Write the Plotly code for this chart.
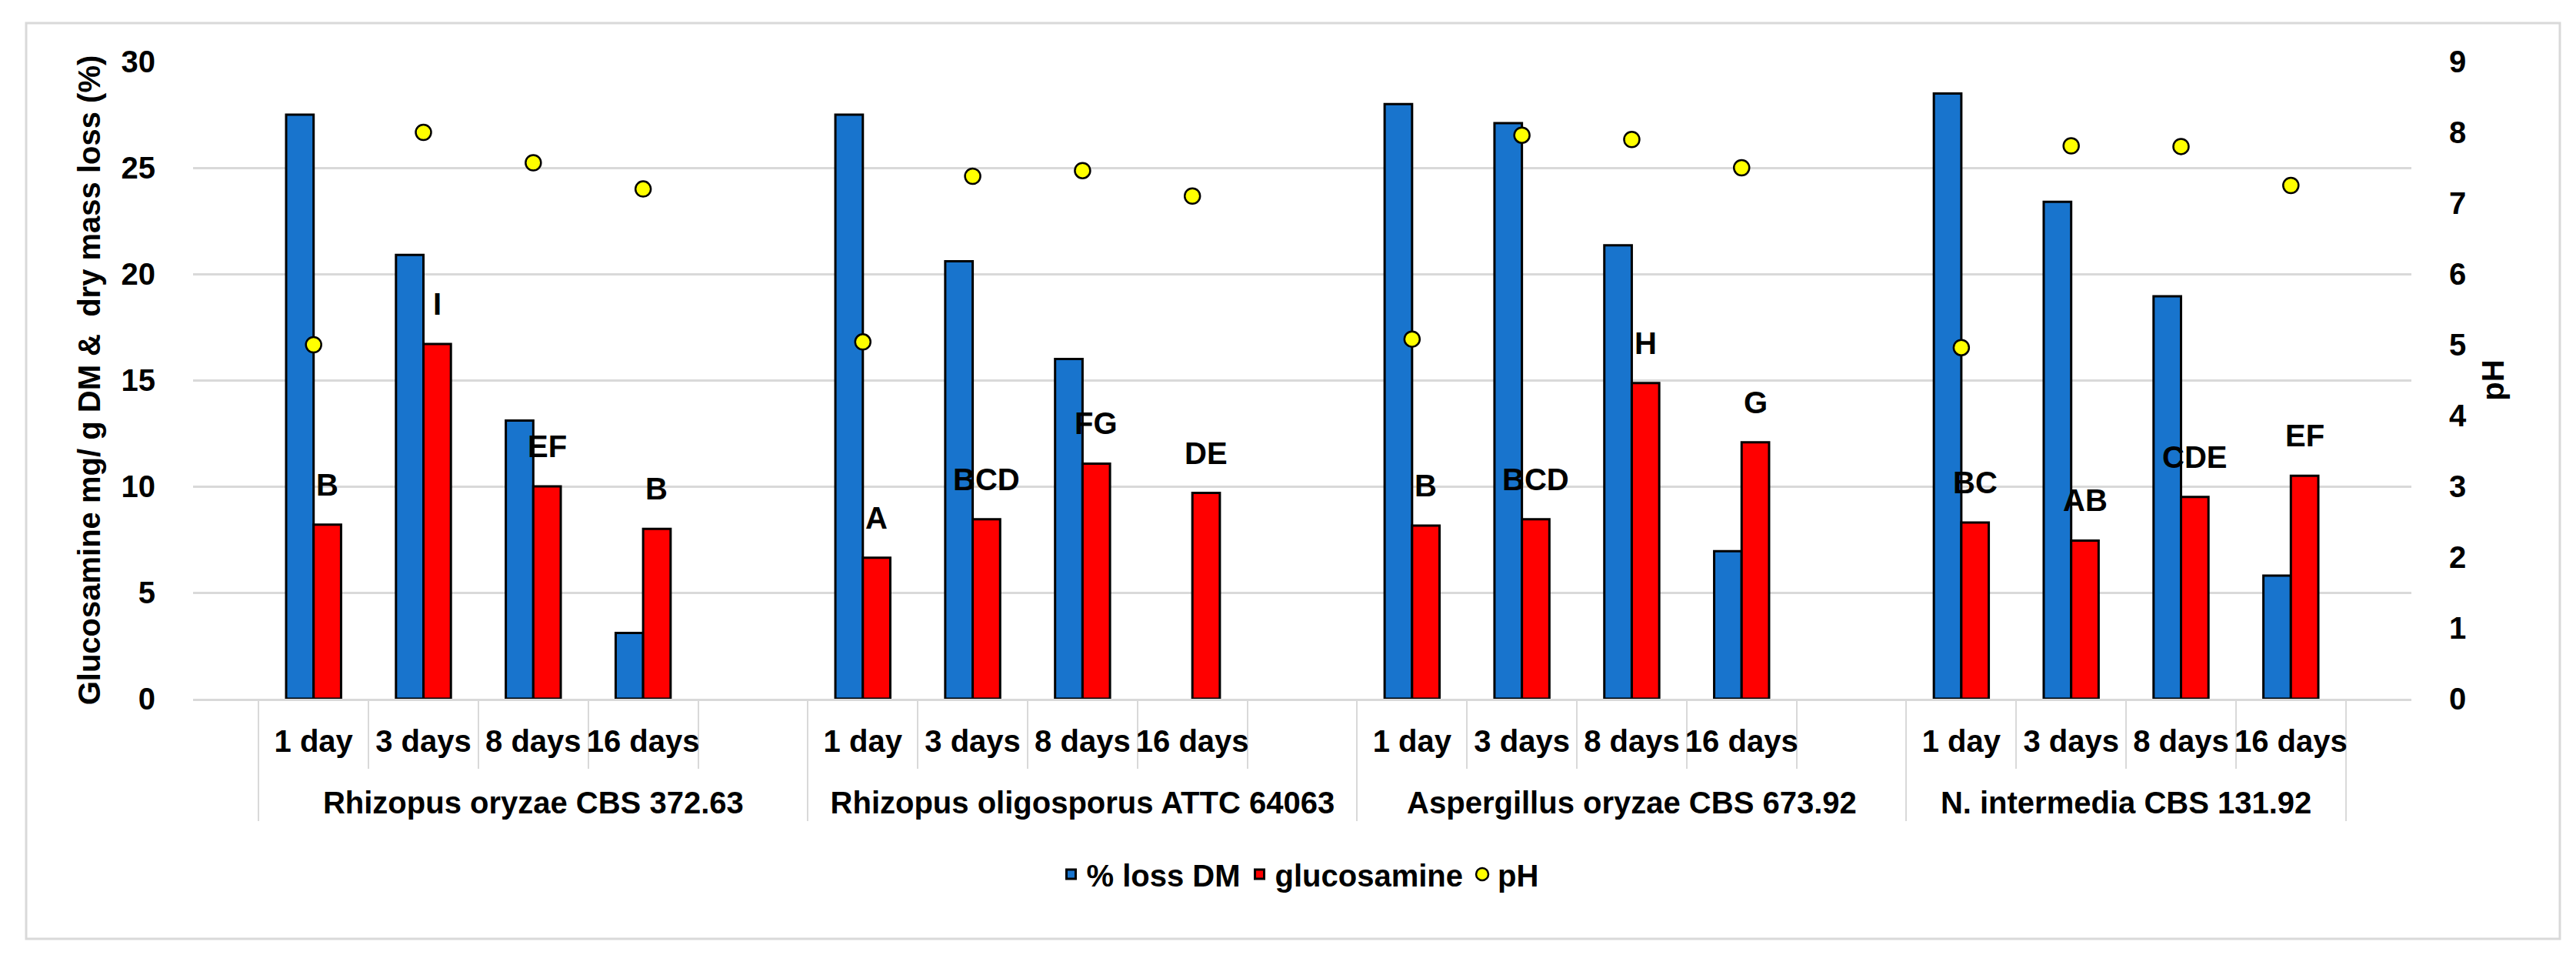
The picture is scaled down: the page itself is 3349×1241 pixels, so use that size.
import plotly.graph_objects as go

# ---------------- data ----------------
groups = ["Rhizopus oryzae CBS 372.63", "Rhizopus oligosporus ATTC 64063",
          "Aspergillus oryzae CBS 673.92", "N. intermedia CBS 131.92"]
days = ["1 day", "3 days", "8 days", "16 days"]

loss_dm = [[27.5, 20.9, 13.1, 3.1],
           [27.5, 20.6, 16.0, None],
           [28.0, 27.1, 21.35, 6.95],
           [28.5, 23.4, 18.95, 5.8]]
glucosamine = [[8.2, 16.7, 10.0, 8.0],
               [6.64, 8.45, 11.07, 9.69],
               [8.15, 8.45, 14.86, 12.07],
               [8.3, 7.45, 9.5, 10.5]]
ph = [[5.0, 8.0, 7.57, 7.2],
      [5.04, 7.38, 7.46, 7.1],
      [5.08, 7.96, 7.9, 7.5],
      [4.96, 7.81, 7.8, 7.25]]
letters = [["B", "I", "EF", "B"],
           ["A", "BCD", "FG", "DE"],
           ["B", "BCD", "H", "G"],
           ["BC", "AB", "CDE", "EF"]]

y_ticks = [0, 5, 10, 15, 20, 25, 30]
ph_ticks = [0, 1, 2, 3, 4, 5, 6, 7, 8, 9]

# ---------------- categories (with an empty spacer slot after groups 1-3) ----
PAD = "<br>\u00a0"   # extra blank line pushes the group row down
cat_par, cat_chi, blue_y, red_y = [], [], [], []
pt_par, pt_chi, ph_y = [], [], []
ann_idx, ann_val, ann_txt = [], [], []
for gi, g in enumerate(groups):
    for di, d in enumerate(days):
        ann_idx.append(len(cat_par))
        ann_val.append(glucosamine[gi][di])
        ann_txt.append(letters[gi][di])
        cat_par.append(g); cat_chi.append(d + PAD)
        blue_y.append(loss_dm[gi][di]); red_y.append(glucosamine[gi][di])
        pt_par.append(g); pt_chi.append(d + PAD); ph_y.append(ph[gi][di])
    if gi < len(groups) - 1:
        cat_par.append(g); cat_chi.append("\u00a0" + PAD)
        blue_y.append(None); red_y.append(None)

FONT = "Liberation Sans, Arial, sans-serif"
BLUE = "#1874CD"
RED = "#FF0000"
GRID = "#D9D9D9"

fig = go.Figure()
fig.add_trace(go.Bar(x=[cat_par, cat_chi], y=blue_y, name="% loss DM",
                     marker=dict(color=BLUE, line=dict(color="black", width=3))))
fig.add_trace(go.Bar(x=[cat_par, cat_chi], y=red_y, name="glucosamine",
                     marker=dict(color=RED, line=dict(color="black", width=3))))
fig.add_trace(go.Scatter(x=[pt_par, pt_chi], y=ph_y, name="pH", mode="markers",
                         yaxis="y2",
                         marker=dict(color="#FFFF00", size=20, symbol="circle",
                                     line=dict(color="black", width=2.5))))

bar_w = (1 - 0.5) / 2
for i, v, t in zip(ann_idx, ann_val, ann_txt):
    fig.add_annotation(x=i + bar_w / 2, y=v, xref="x", yref="y", text=t,
                       showarrow=False, yanchor="bottom", yshift=28,
                       font=dict(family=FONT, size=40, color="black", weight="bold"))

W, H = 3349, 1241
L, R, T, B = 243, 222, 72, 341
pw, ph_ = W - L - R, H - T - B
# outer chart border
fig.add_shape(type="rect", xref="paper", yref="paper",
              x0=(26 - L) / pw, x1=(3320 - L) / pw,
              y0=(H - B - 1212) / ph_, y1=(H - B - 22) / ph_,
              line=dict(color=GRID, width=3), layer="below")

tickfont = dict(family=FONT, size=40, color="black", weight="bold")
fig.update_layout(
    width=W, height=H,
    margin=dict(l=L, r=R, t=T, b=B),
    paper_bgcolor="white", plot_bgcolor="white",
    barmode="group", bargap=0.5, bargroupgap=0,
    showlegend=True,
    legend=dict(orientation="h", x=0.4986, xanchor="center",
                y=(H - B - 1128) / ph_, yanchor="middle",
                font=dict(family=FONT, size=40, color="black", weight="bold"),
                itemwidth=30, tracegroupgap=0),
    xaxis=dict(type="multicategory", showline=True, linecolor=GRID, linewidth=3,
               ticks="outside", ticklen=88, tickwidth=2, tickcolor=GRID,
               ticklabelstandoff=18, tickangle=0,
               showdividers=True, dividercolor=GRID, dividerwidth=2,
               tickfont=tickfont, showgrid=False),
    yaxis=dict(range=[0, 30], tickvals=y_ticks, showgrid=True, gridcolor=GRID,
               gridwidth=3, zeroline=False, showline=False,
               ticks="outside", ticklen=40, tickcolor="rgba(0,0,0,0)",
               tickfont=tickfont,
               title=dict(text="Glucosamine mg/ g DM &\u00a0 dry mass loss (%)",
                          font=dict(family=FONT, size=40, color="black", weight="bold"),
                          standoff=14)),
    yaxis2=dict(range=[0, 9], tickvals=ph_ticks, overlaying="y", side="right",
                showgrid=False, zeroline=False, showline=False,
                ticks="outside", ticklen=40, tickcolor="rgba(0,0,0,0)",
                tickfont=tickfont,
                title=dict(text="pH",
                           font=dict(family=FONT, size=40, color="black", weight="bold"),
                           standoff=20)),
)

fig.write_html("out.html")
